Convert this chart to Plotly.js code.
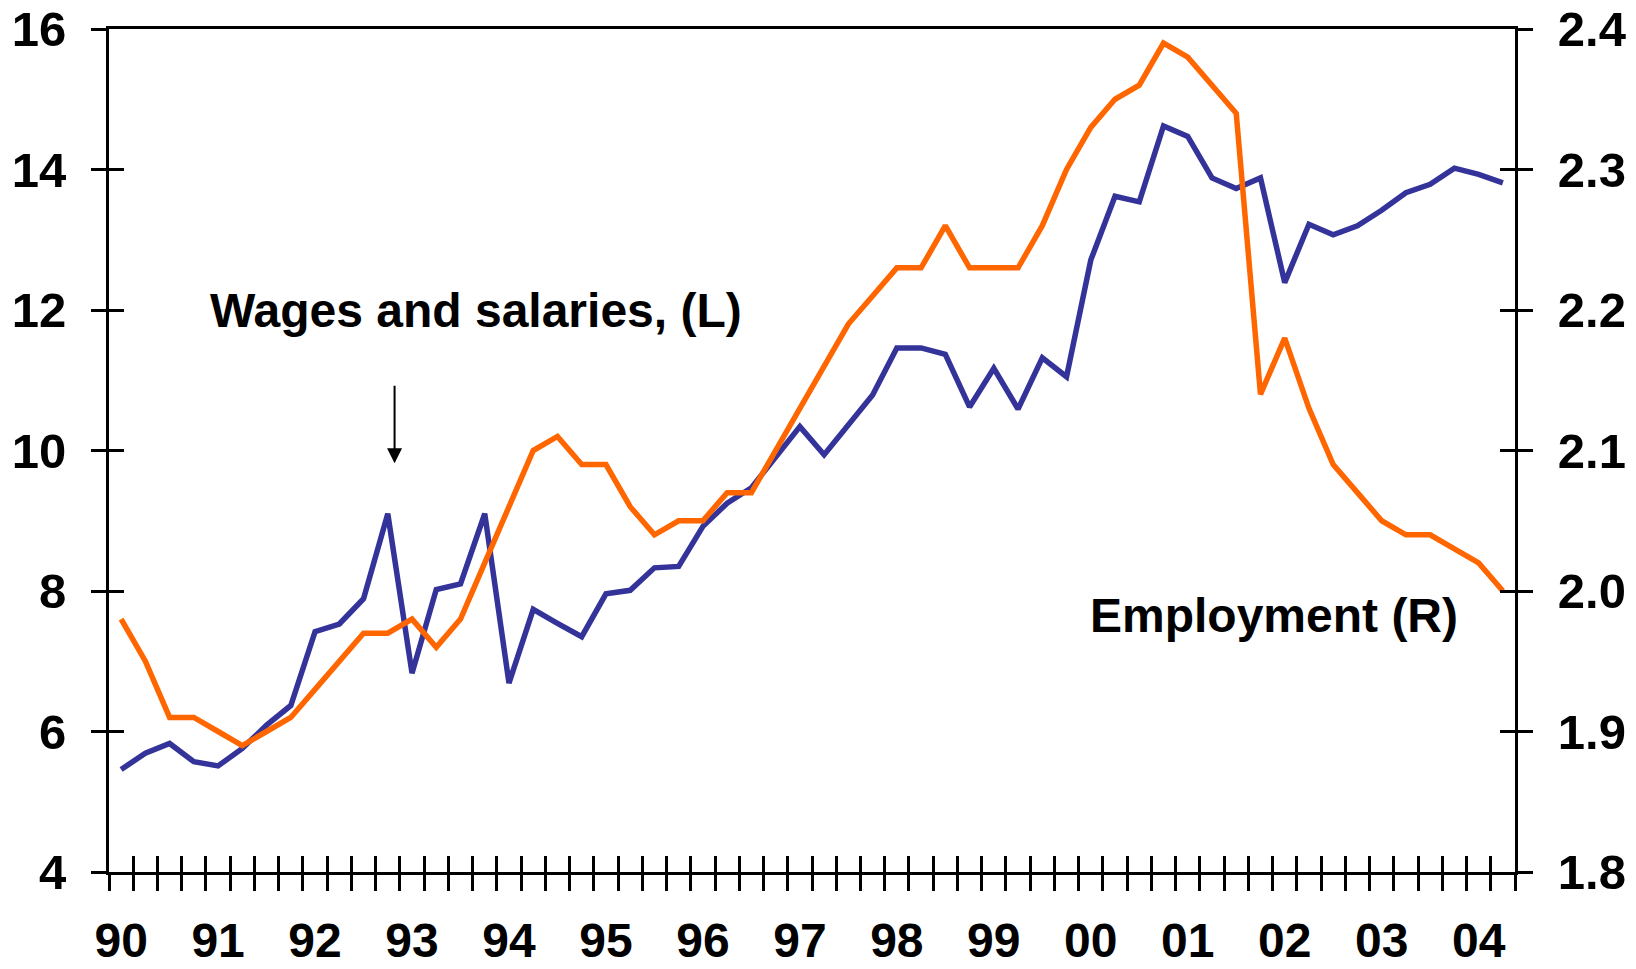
<!DOCTYPE html>
<html>
<head>
<meta charset="utf-8">
<script src="https://cdn.plot.ly/plotly-3.0.1.min.js"></script>
<style>
  html, body { margin: 0; padding: 0; background: #ffffff; }
  #chart { width: 1636px; height: 969px; }
</style>
</head>
<body>
<div id="chart"></div>
<script>
// Quarterly categories 1990Q1 .. 2004Q2
const years = ['90','91','92','93','94','95','96','97','98','99','00','01','02','03','04'];
const quarters = [];
const quarterLabels = [];
for (let y = 1990; y <= 2004; y++) {
  for (let q = 1; q <= 4; q++) {
    if (y === 2004 && q > 2) break;
    quarters.push(y + 'Q' + q);
    quarterLabels.push(q === 1 ? years[y - 1990] : '');
  }
}

// Wages and salaries (left axis)
const wages = [
  5.46, 5.69, 5.83, 5.57, 5.51, 5.76, 6.09, 6.37,
  7.42, 7.53, 7.89, 9.10, 6.83, 8.02, 8.10, 9.10,
  6.69, 7.74, 7.54, 7.35, 7.96, 8.01, 8.33, 8.35,
  8.92, 9.25, 9.47, 9.91, 10.34, 9.94, 10.37, 10.79,
  11.46, 11.46, 11.37, 10.62, 11.17, 10.59, 11.32, 11.05,
  12.71, 13.62, 13.54, 14.62, 14.47, 13.88, 13.73, 13.88,
  12.39, 13.22, 13.07, 13.20, 13.42, 13.67, 13.79, 14.02,
  13.93, 13.81
];

// Employment (right axis)
const employment = [
  1.98, 1.95, 1.91, 1.91, 1.90, 1.89, 1.90, 1.91,
  1.93, 1.95, 1.97, 1.97, 1.98, 1.96, 1.98, 2.02,
  2.06, 2.10, 2.11, 2.09, 2.09, 2.06, 2.04, 2.05,
  2.05, 2.07, 2.07, 2.10, 2.13, 2.16, 2.19, 2.21,
  2.23, 2.23, 2.26, 2.23, 2.23, 2.23, 2.26, 2.30,
  2.33, 2.35, 2.36, 2.39, 2.38, 2.36, 2.34, 2.14,
  2.18, 2.13, 2.09, 2.07, 2.05, 2.04, 2.04, 2.03,
  2.02, 2.00
];

const FONT = 'Liberation Sans, Arial, sans-serif';
const yTickFont = { family: FONT, size: 49, color: '#000000', weight: 'bold' };
const xTickFont = { family: FONT, size: 48, color: '#000000', weight: 'bold' };
const xRange = [-0.5, quarters.length - 0.5];

const traces = [
  {
    x: quarters, y: wages, xaxis: 'x', yaxis: 'y',
    type: 'scatter', mode: 'lines', name: 'Wages and salaries (L)',
    line: { color: '#333399', width: 5.5, shape: 'linear' },
    hoverinfo: 'skip'
  },
  {
    x: quarters, y: employment, xaxis: 'x', yaxis: 'y2',
    type: 'scatter', mode: 'lines', name: 'Employment (R)',
    line: { color: '#FF6600', width: 5.5, shape: 'linear' },
    hoverinfo: 'skip'
  },
  // transparent companions so the inner-tick axes (x2, y3, y4) get drawn
  {
    x: quarters, y: wages, xaxis: 'x2', yaxis: 'y3',
    type: 'scatter', mode: 'lines', showlegend: false,
    line: { color: 'rgba(0,0,0,0)', width: 0 }, hoverinfo: 'skip'
  },
  {
    x: quarters, y: employment, xaxis: 'x2', yaxis: 'y4',
    type: 'scatter', mode: 'lines', showlegend: false,
    line: { color: 'rgba(0,0,0,0)', width: 0 }, hoverinfo: 'skip'
  }
];

const commonX = {
  type: 'category', categoryorder: 'array', categoryarray: quarters,
  range: xRange, tickmode: 'array', tickvals: quarters, ticktext: quarterLabels,
  tickson: 'boundaries', tickwidth: 3, tickcolor: '#000000', ticklen: 16,
  tickangle: 0, showgrid: false, zeroline: false, fixedrange: true
};

const layout = {
  width: 1636, height: 969,
  margin: { l: 109, r: 121, t: 29, b: 97, pad: 0 },
  paper_bgcolor: '#ffffff', plot_bgcolor: '#ffffff',
  showlegend: false, hovermode: false,
  xaxis: Object.assign({}, commonX, {
    ticks: 'outside', showline: true, linecolor: '#000000', linewidth: 3, mirror: true,
    tickfont: xTickFont, ticklabelstandoff: 24, anchor: 'y'
  }),
  xaxis2: Object.assign({}, commonX, {
    overlaying: 'x', anchor: 'y3', side: 'bottom',
    ticks: 'inside', showline: false, showticklabels: false
  }),
  yaxis: {
    range: [4, 16], tickmode: 'linear', tick0: 4, dtick: 2,
    ticks: 'outside', ticklen: 15, tickwidth: 3, tickcolor: '#000000',
    showline: true, linecolor: '#000000', linewidth: 3,
    showgrid: false, zeroline: false, tickfont: yTickFont,
    ticklabelstandoff: 15, fixedrange: true
  },
  yaxis3: {
    overlaying: 'y', side: 'left', anchor: 'x2',
    range: [4, 16], tickmode: 'linear', tick0: 4, dtick: 2,
    ticks: 'inside', ticklen: 15, tickwidth: 3, tickcolor: '#000000',
    showline: false, showgrid: false, zeroline: false, showticklabels: false,
    fixedrange: true
  },
  yaxis2: {
    overlaying: 'y', side: 'right', anchor: 'x',
    range: [1.8, 2.4], tickmode: 'linear', tick0: 1.8, dtick: 0.1, tickformat: '.1f',
    ticks: 'outside', ticklen: 15, tickwidth: 3, tickcolor: '#000000',
    showline: true, linecolor: '#000000', linewidth: 3,
    showgrid: false, zeroline: false, tickfont: yTickFont,
    ticklabelstandoff: 15, fixedrange: true
  },
  yaxis4: {
    overlaying: 'y', side: 'right', anchor: 'x2',
    range: [1.8, 2.4], tickmode: 'linear', tick0: 1.8, dtick: 0.1,
    ticks: 'inside', ticklen: 15, tickwidth: 3, tickcolor: '#000000',
    showline: false, showgrid: false, zeroline: false, showticklabels: false,
    fixedrange: true
  },
  annotations: [
    {
      text: 'Wages and salaries, (L)', xref: 'x', yref: 'y',
      x: 3.59, y: 11.99, xanchor: 'left', yanchor: 'middle', showarrow: false,
      font: { family: FONT, size: 48, color: '#000000', weight: 'bold' }
    },
    {
      text: '', xref: 'x', yref: 'y', x: 11.28, y: 9.82,
      showarrow: true, ax: 0, ay: -79, axref: 'pixel', ayref: 'pixel',
      arrowhead: 2, arrowsize: 1.5, arrowwidth: 2, arrowcolor: '#000000', standoff: 0
    },
    {
      text: 'Employment (R)', xref: 'x', yref: 'y',
      x: 39.9, y: 7.65, xanchor: 'left', yanchor: 'middle', showarrow: false,
      font: { family: FONT, size: 48, color: '#000000', weight: 'bold' }
    }
  ]
};

Plotly.newPlot('chart', traces, layout, { displayModeBar: false, staticPlot: true });
</script>
</body>
</html>
